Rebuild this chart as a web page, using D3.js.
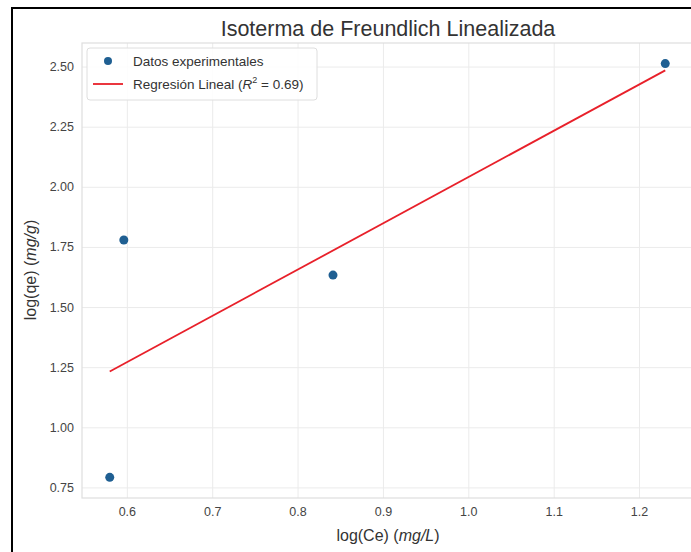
<!DOCTYPE html>
<html>
<head>
<meta charset="utf-8">
<script src="https://cdn.jsdelivr.net/npm/d3@7"></script>
<style>
  html, body { margin: 0; padding: 0; background: #fff; }
  svg { display: block; font-family: 'Liberation Sans', Arial, sans-serif; }
</style>
</head>
<body>
<script>
const width = 691
const height = 552
const margins = { top: 43, right: -2, bottom: 54, left: 82 }

// values
const logCe = [0.580, 0.5965, 0.8415, 1.2307]
const logQe = [0.792, 1.779, 1.633, 2.5125]
const fitX = [0.580, 1.2307]
const fitY = [1.232, 2.484]
const xTicks = [0.6, 0.7, 0.8, 0.9, 1.0, 1.1, 1.2]
const yTicks = [0.75, 1.00, 1.25, 1.50, 1.75, 2.00, 2.25, 2.50]
const rSquared = 0.69

const points = logCe.map((x, i) => ({ x, y: logQe[i] }))
const fit = fitX.map((x, i) => ({ x, y: fitY[i] }))

const svg = d3.select('body').append('svg')
  .attr('width', width)
  .attr('height', height)

// outer frame of the screenshot
svg.append('path')
  .attr('d', `M12,${height} L12,8 L${width},8`)
  .attr('fill', 'none')
  .attr('stroke', '#000')
  .attr('stroke-width', 2)

const xScale = d3.scaleLinear()
  .domain([0.5475, 1.2632])
  .range([margins.left, width - margins.right])
const yScale = d3.scaleLinear()
  .domain([0.706, 2.598])
  .range([height - margins.bottom, margins.top])

const plot = svg.append('g')

// grid
plot.append('g')
  .attr('transform', `translate(0,${height - margins.bottom})`)
  .call(d3.axisBottom(xScale).tickValues(xTicks).tickSize(-(height - margins.bottom - margins.top)).tickFormat(''))
  .call(g => g.select('.domain').remove())
  .call(g => g.selectAll('line').attr('stroke', '#ebebeb'))
plot.append('g')
  .attr('transform', `translate(${margins.left},0)`)
  .call(d3.axisLeft(yScale).tickValues(yTicks).tickSize(-(width - margins.right - margins.left)).tickFormat(''))
  .call(g => g.select('.domain').remove())
  .call(g => g.selectAll('line').attr('stroke', '#ebebeb'))

// frame
plot.append('rect')
  .attr('x', margins.left)
  .attr('y', margins.top)
  .attr('width', width - margins.right - margins.left)
  .attr('height', height - margins.bottom - margins.top)
  .attr('fill', 'none')
  .attr('stroke', '#dedede')
  .attr('stroke-width', 1.2)

// tick labels
const xAxis = svg.append('g')
  .attr('transform', `translate(0,${height - margins.bottom})`)
  .call(d3.axisBottom(xScale).tickValues(xTicks).tickSize(0).tickPadding(9).tickFormat(d3.format('.1f')))
xAxis.select('.domain').remove()
xAxis.selectAll('text').attr('font-size', 12.5).attr('fill', '#444').attr('font-family', null)

const yAxis = svg.append('g')
  .attr('transform', `translate(${margins.left},0)`)
  .call(d3.axisLeft(yScale).tickValues(yTicks).tickSize(0).tickPadding(8).tickFormat(d3.format('.2f')))
yAxis.select('.domain').remove()
yAxis.selectAll('text').attr('font-size', 12.5).attr('fill', '#444').attr('font-family', null)

// axis labels
const xLabel = svg.append('text')
  .attr('x', 388)
  .attr('y', 541)
  .attr('text-anchor', 'middle')
  .attr('font-size', 16)
  .attr('fill', '#333')
xLabel.append('tspan').text('log(Ce) (')
xLabel.append('tspan').attr('font-style', 'italic').text('mg/L')
xLabel.append('tspan').text(')')

const yLabel = svg.append('text')
  .attr('transform', `translate(36,270) rotate(-90)`)
  .attr('text-anchor', 'middle')
  .attr('font-size', 16)
  .attr('fill', '#333')
yLabel.append('tspan').text('log(qe) (')
yLabel.append('tspan').attr('font-style', 'italic').text('mg/g')
yLabel.append('tspan').text(')')

// title
svg.append('text')
  .attr('x', 388)
  .attr('y', 36)
  .attr('text-anchor', 'middle')
  .attr('font-size', 21.5)
  .attr('fill', '#333')
  .text('Isoterma de Freundlich Linealizada')

// regression line
const line = d3.line().x(d => xScale(d.x)).y(d => yScale(d.y))
plot.append('path')
  .datum(fit)
  .attr('d', line)
  .attr('fill', 'none')
  .attr('stroke', '#e8202a')
  .attr('stroke-width', 1.8)

// points
plot.selectAll('circle')
  .data(points)
  .enter()
  .append('circle')
  .attr('cx', d => xScale(d.x))
  .attr('cy', d => yScale(d.y))
  .attr('r', 4.5)
  .attr('fill', '#1f5f92')

// legend
const legend = svg.append('g').attr('transform', 'translate(87,48)')
legend.append('rect')
  .attr('width', 230)
  .attr('height', 52)
  .attr('rx', 3)
  .attr('fill', '#fff')
  .attr('fill-opacity', 0.85)
  .attr('stroke', '#dedede')
legend.append('circle')
  .attr('cx', 21)
  .attr('cy', 13)
  .attr('r', 4)
  .attr('fill', '#1f5f92')
legend.append('text')
  .attr('x', 46)
  .attr('y', 17.5)
  .attr('font-size', 13.5)
  .attr('fill', '#333')
  .text('Datos experimentales')
legend.append('line')
  .attr('x1', 6).attr('x2', 36)
  .attr('y1', 36).attr('y2', 36)
  .attr('stroke', '#e8202a')
  .attr('stroke-width', 1.8)
const lt = legend.append('text')
  .attr('x', 46)
  .attr('y', 40.5)
  .attr('font-size', 13.5)
  .attr('fill', '#333')
lt.append('tspan').text('Regresión Lineal (')
lt.append('tspan').attr('font-style', 'italic').text('R')
lt.append('tspan').attr('font-size', 9).attr('dy', -6).text('2')
lt.append('tspan').attr('dy', 6).text(` = ${rSquared.toFixed(2)})`)
</script>
</body>
</html>
